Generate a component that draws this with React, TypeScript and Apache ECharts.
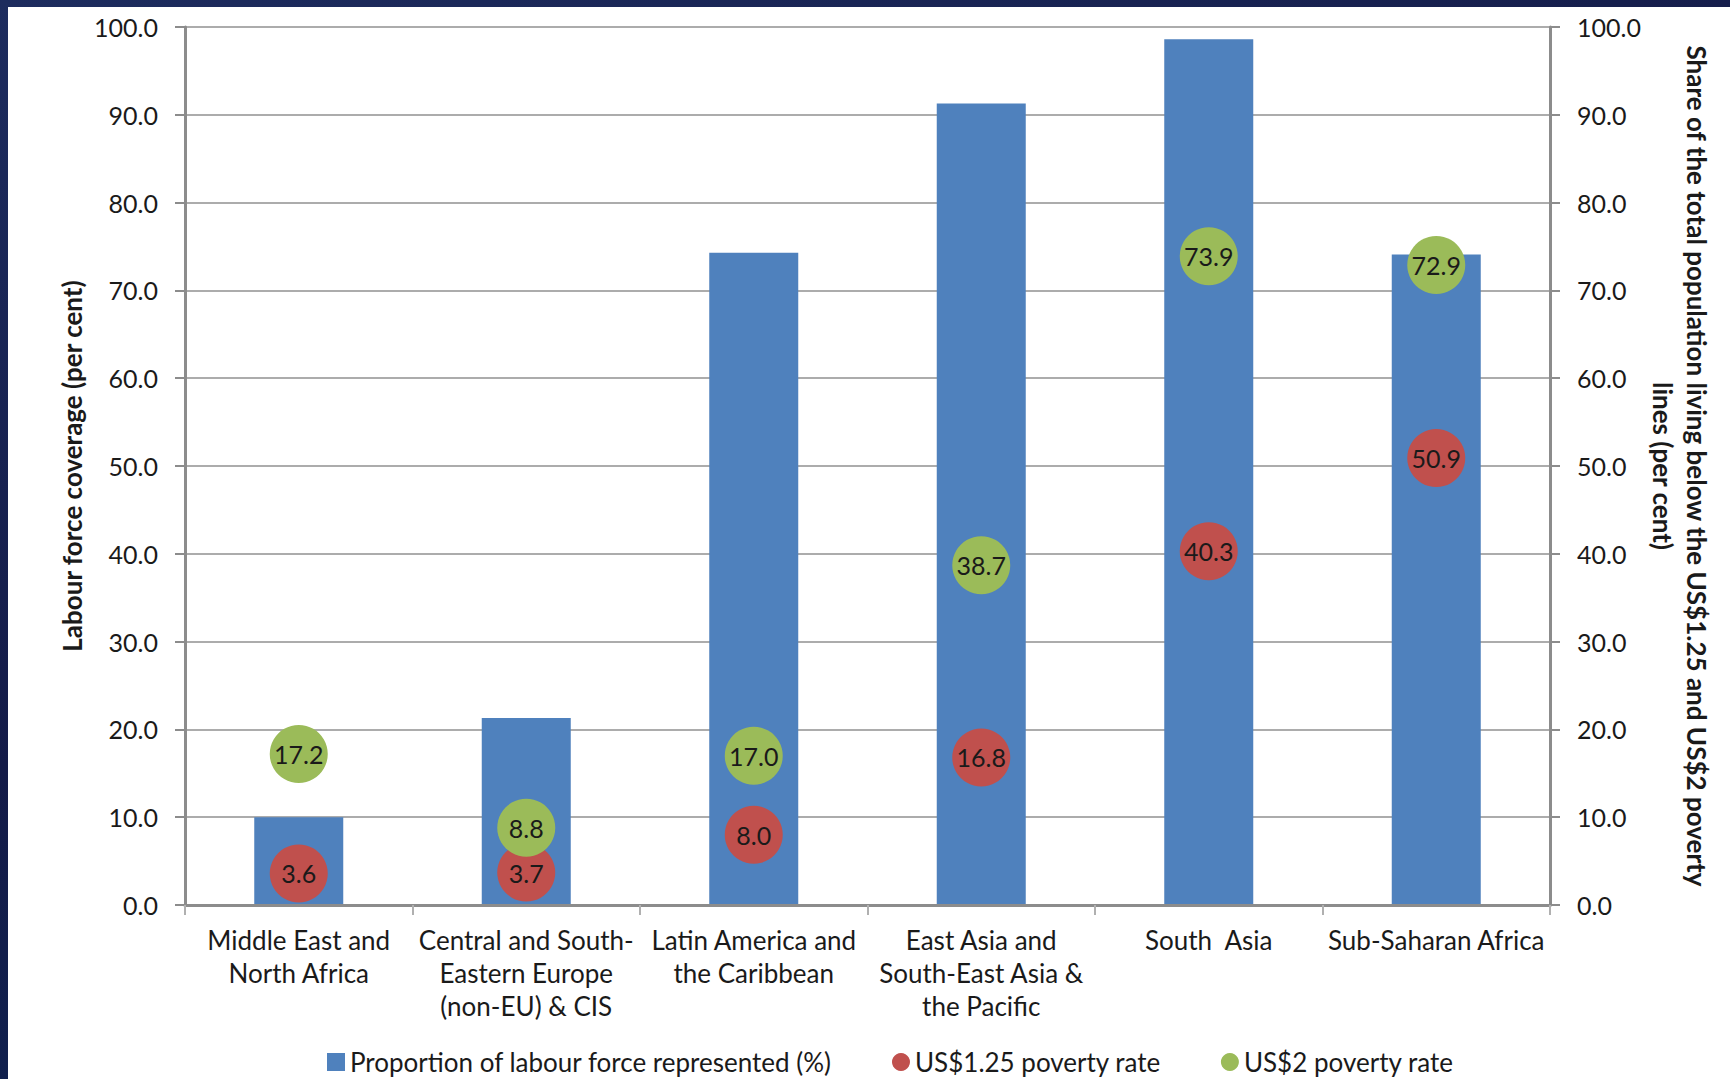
import React, { useEffect, useRef } from "react";
import * as echarts from "echarts";

// Regions shown along the category axis
const categories = [
  "Middle East and\nNorth Africa",
  "Central and South-\nEastern Europe\n(non-EU) & CIS",
  "Latin America and\nthe Caribbean",
  "East Asia and\nSouth-East Asia &\nthe Pacific",
  "South  Asia",
  "Sub-Saharan Africa",
];

// Proportion of labour force represented (%)
const labourCoverage = [10.0, 21.3, 74.3, 91.3, 98.6, 74.1];
// Share of population below US$1.25 a day
const poverty125 = [3.6, 3.7, 8.0, 16.8, 40.3, 50.9];
// Share of population below US$2 a day
const poverty2 = [17.2, 8.8, 17.0, 38.7, 73.9, 72.9];

const legendNames = [
  "Proportion of labour force represented (%)",
  "US$1.25 poverty rate",
  "US$2 poverty rate",
];

const FONT = "Lato, 'Open Sans', sans-serif";
const TEXT = "#1a1a1a";

export default function App() {
  const ref = useRef<HTMLDivElement>(null);

  useEffect(() => {
    document.body.style.margin = "0";
    if (!ref.current) return;
    const chart = echarts.init(ref.current, undefined, { renderer: "svg" });

    const valueAxis = (position: "left" | "right", name: string, nameGap: number, nameRotate: number) => ({
      type: "value" as const,
      position,
      min: 0,
      max: 100,
      interval: 10,
      name,
      nameLocation: "middle" as const,
      nameGap,
      nameRotate,
      nameMoveOverlap: false,
      nameTextStyle: {
        fontFamily: FONT,
        fontSize: 26,
        fontWeight: "bold" as const,
        color: TEXT,
        lineHeight: 34,
        align: "center" as const,
      },
      axisLine: { show: true, lineStyle: { color: "#8c8c8c", width: 3 } },
      axisTick: { show: true, inside: false, length: 10, lineStyle: { color: "#8c8c8c", width: 2 } },
      axisLabel: {
        margin: 27,
        fontFamily: FONT,
        fontSize: 25,
        color: TEXT,
        formatter: (v: number) => v.toFixed(1),
      },
      splitLine: { show: position === "left", lineStyle: { color: "#acacac", width: 2 } },
    });

    const scatterLabel = {
      show: true,
      position: "inside" as const,
      fontFamily: FONT,
      fontSize: 25,
      color: TEXT,
      formatter: (p: any) => Number(p.value).toFixed(1),
    };

    chart.setOption({
      animation: false,
      backgroundColor: "#ffffff",
      textStyle: { fontFamily: FONT },
      grid: { left: 177, right: 180, top: 20, bottom: 174, containLabel: false },
      legend: {
        left: 314,
        top: 1037,
        itemWidth: 18,
        itemHeight: 18,
        itemGap: 60,
        textStyle: { fontFamily: FONT, fontSize: 26, color: TEXT },
        data: [
          { name: legendNames[0], icon: "rect" },
          { name: legendNames[1], icon: "circle" },
          { name: legendNames[2], icon: "circle" },
        ],
      },
      xAxis: {
        type: "category",
        data: categories,
        z: 3,
        axisLine: { show: true, lineStyle: { color: "#8c8c8c", width: 3 } },
        axisTick: { show: true, length: 10, alignWithLabel: false, lineStyle: { color: "#b0b0b0", width: 2 } },
        axisLabel: {
          interval: 0,
          margin: 18,
          fontFamily: FONT,
          fontSize: 26,
          lineHeight: 33,
          color: TEXT,
        },
      },
      yAxis: [
        valueAxis("left", "Labour force coverage (per cent)", 96, 90),
        valueAxis(
          "right",
          "Share of the total population living below the US$1.25 and US$2 poverty\nlines (per cent)",
          96,
          -90
        ),
      ],
      series: [
        {
          name: legendNames[0],
          type: "bar",
          data: labourCoverage,
          barWidth: 89,
          itemStyle: { color: "#4f81bd" },
          z: 2,
        },
        {
          name: legendNames[1],
          type: "scatter",
          yAxisIndex: 1,
          data: poverty125,
          symbol: "circle",
          symbolSize: 58,
          itemStyle: { color: "#c0504d", opacity: 1 },
          label: scatterLabel,
          z: 4,
        },
        {
          name: legendNames[2],
          type: "scatter",
          yAxisIndex: 1,
          data: poverty2,
          symbol: "circle",
          symbolSize: 58,
          itemStyle: { color: "#9bbb59", opacity: 1 },
          label: scatterLabel,
          z: 5,
        },
      ],
    });

    return () => chart.dispose();
  }, []);

  return (
    <div
      style={{
        position: "fixed",
        left: 0,
        top: 0,
        width: 1730,
        height: 1079,
        background: "linear-gradient(160deg, #1d2c5e 0%, #141b48 45%, #0a2a58 100%)",
        overflow: "hidden",
      }}
    >
      <div
        ref={ref}
        style={{ position: "absolute", left: 8, top: 7, width: 1722, height: 1072, background: "#ffffff" }}
      />
    </div>
  );
}
